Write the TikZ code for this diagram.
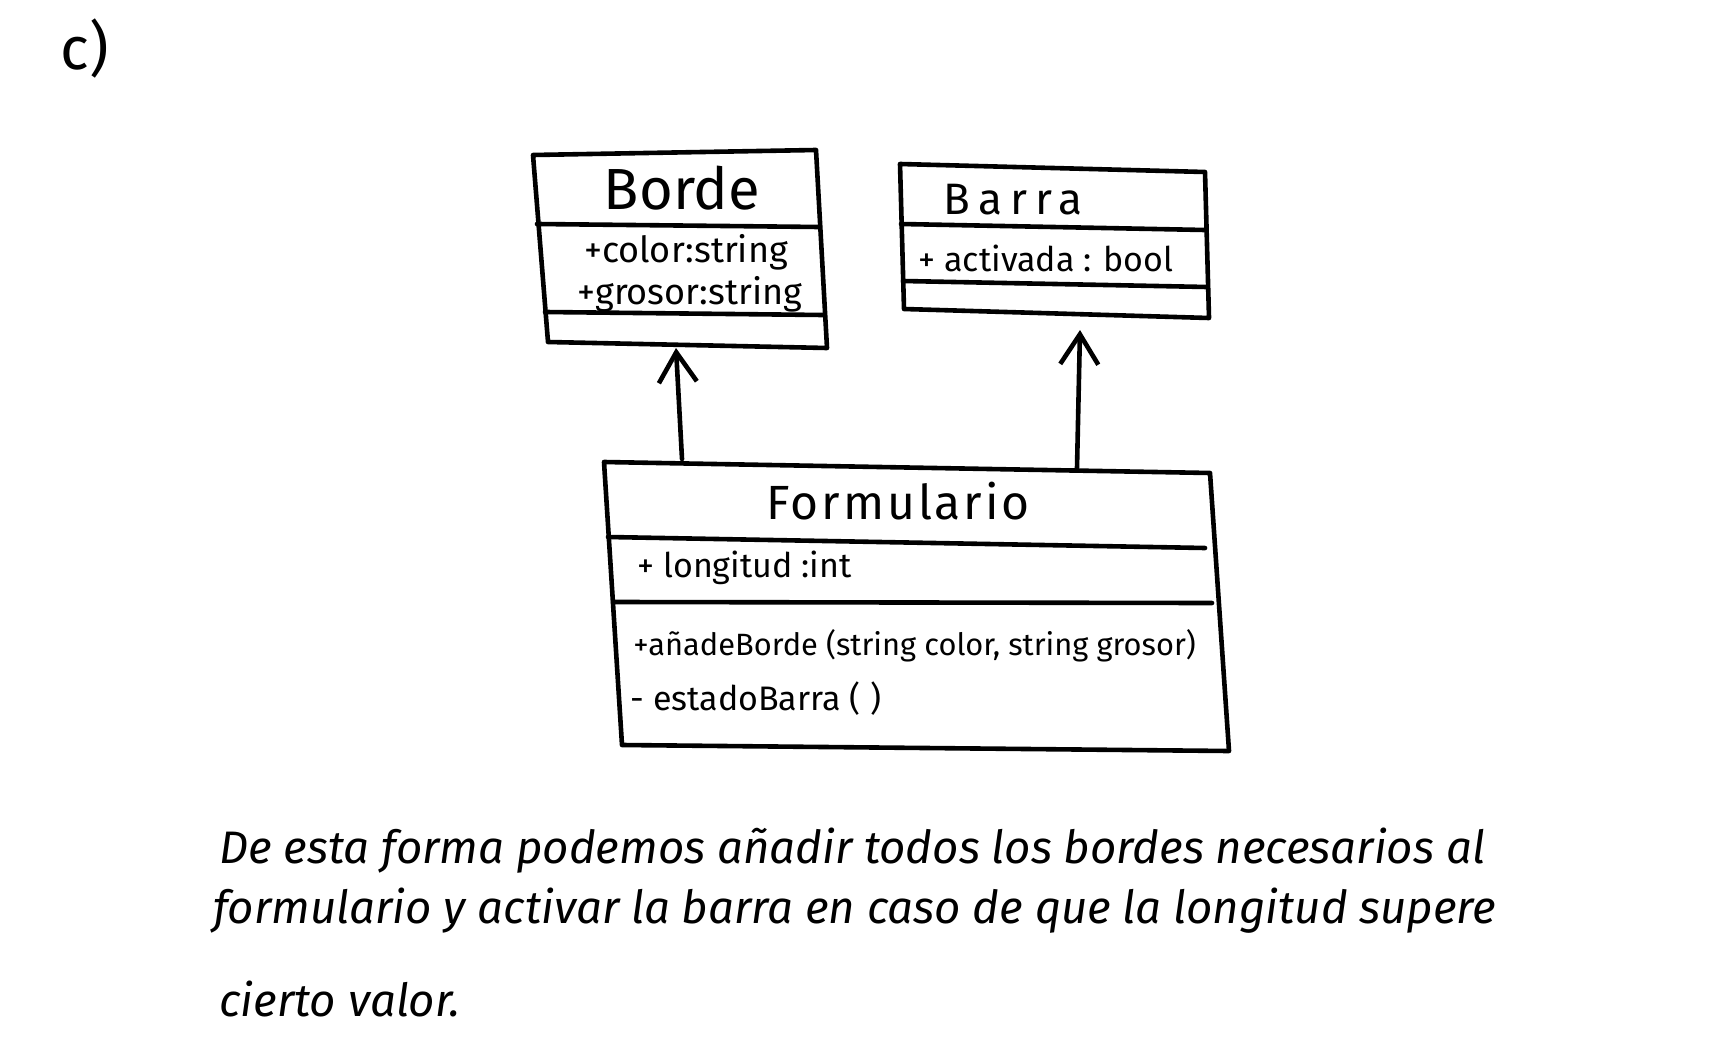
\documentclass[tikz,border=0pt]{standalone}
\usepackage{fontspec}
\setmainfont{Fira Sans}
\newfontfamily\hand{Fira Sans}
\newfontfamily\handsp[LetterSpace=18]{Fira Sans}
\newfontfamily\handspb[LetterSpace=6]{Fira Sans}
\usetikzlibrary{arrows.meta}
\tikzset{
  box/.style={line width=2.3pt, line join=round, line cap=round, black},
  sep/.style={line width=2.3pt, line cap=round, black},
  dep/.style={line width=2.3pt, line cap=round, -{Straight Barb[length=15pt,width=19pt,line width=2.3pt]}},
  lbl/.style={inner sep=0pt, text=black},
  para/.style={lbl, anchor=west, font=\itshape\fontsize{22.8}{27}\selectfont},
}
\begin{document}
\begin{tikzpicture}[x=0.5pt,y=-0.5pt]
\useasboundingbox (0,0) rectangle (1717,1064);
% label
\node[lbl, font=\hand\fontsize{30}{36}\selectfont] (lab) at (85,49) {c)};
% --- Borde
\coordinate (b1) at (533,155); \coordinate (b2) at (816,150);
\coordinate (b3) at (827,348); \coordinate (b4) at (548,342);
\draw[box] (b1) -- (b2) -- (b3) -- (b4) -- cycle;
\coordinate (bs1l) at (537,224); \coordinate (bs1r) at (819,227);
\coordinate (bs2l) at (545,312); \coordinate (bs2r) at (823,315);
\draw[sep] (bs1l) -- (bs1r);
\draw[sep] (bs2l) -- (bs2r);
\node[lbl, font=\hand\fontsize{29}{34}\selectfont] (bname) at (682,188) {Borde};
\node[lbl, font=\hand\fontsize{18}{22}\selectfont] (bcol) at (686,252) {+color:string};
\node[lbl, font=\hand\fontsize{18}{22}\selectfont] (bgro) at (690,294) {+grosor:string};
\coordinate (bbot) at (676,348);
% --- Barra
\coordinate (r1) at (900,164); \coordinate (r2) at (1205,172);
\coordinate (r3) at (1209,318); \coordinate (r4) at (904,309);
\draw[box] (r1) -- (r2) -- (r3) -- (r4) -- cycle;
\coordinate (rs1l) at (901,224); \coordinate (rs1r) at (1205,230);
\coordinate (rs2l) at (903,281); \coordinate (rs2r) at (1207,287);
\draw[sep] (rs1l) -- (rs1r);
\draw[sep] (rs2l) -- (rs2r);
\node[lbl, font=\handsp\fontsize{22}{26}\selectfont] (rname) at (1013,200) {Barra};
\node[lbl, font=\hand\fontsize{17}{21}\selectfont] (ract) at (1046,258) {+ activada : bool};
\coordinate (rbot) at (1080,330);
% --- Formulario
\coordinate (f1) at (604,462); \coordinate (f2) at (1210,473);
\coordinate (f3) at (1229,751); \coordinate (f4) at (622,745);
\draw[box] (f1) -- (f2) -- (f3) -- (f4) -- cycle;
\coordinate (fs1l) at (608,537); \coordinate (fs1r) at (1205,548);
\coordinate (fs2l) at (613,602); \coordinate (fs2r) at (1212,603);
\draw[sep] (fs1l) -- (fs1r);
\draw[sep] (fs2l) -- (fs2r);
\node[lbl, font=\handspb\fontsize{24}{28}\selectfont] (fname) at (898,501) {Formulario};
\node[lbl, font=\hand\fontsize{17}{21}\selectfont, anchor=west] (flon) at (637,568) {+ longitud :int};
\node[lbl, font=\hand\fontsize{15.4}{19}\selectfont, anchor=west] (fadd) at (633,646) {+añadeBorde (string color, string grosor)};
\node[lbl, font=\hand\fontsize{17}{21}\selectfont, anchor=west] (fest) at (630,699) {- estadoBarra ( )};
\coordinate (ftopl) at (682,459);
\coordinate (ftopr) at (1077,468);
% --- connectors
\draw[dep] (ftopl) -- (bbot);
\draw[dep] (ftopr) -- (rbot);
% --- text
\node[para] (p1) at (219,851) {De esta forma podemos añadir todos los bordes necesarios al};
\node[para] (p2) at (213,911) {formulario y activar la barra en caso de que la longitud supere};
\node[para] (p3) at (219,999) {cierto valor.};
\end{tikzpicture}
\end{document}
